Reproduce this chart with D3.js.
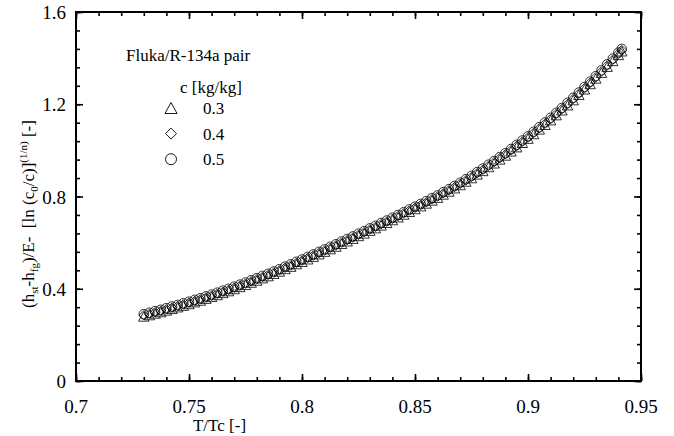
<!DOCTYPE html>
<html>
<head>
<meta charset="utf-8">
<script src="https://cdn.jsdelivr.net/npm/d3@7"></script>
<style>
body { margin: 0; background: #fff; }
svg { display: block; }
</style>
</head>
<body>
<script>
// T/Tc values (shared by the three series)
var tRatio = [0.7300,0.7325,0.7350,0.7375,0.7400,0.7425,0.7450,0.7475,0.7500,0.7525,
  0.7550,0.7575,0.7600,0.7625,0.7650,0.7675,0.7700,0.7725,0.7750,0.7775,
  0.7800,0.7825,0.7850,0.7875,0.7900,0.7925,0.7950,0.7975,0.8000,0.8025,
  0.8050,0.8075,0.8100,0.8125,0.8150,0.8175,0.8200,0.8225,0.8250,0.8275,
  0.8300,0.8325,0.8350,0.8375,0.8400,0.8425,0.8450,0.8475,0.8500,0.8525,
  0.8550,0.8575,0.8600,0.8625,0.8650,0.8675,0.8700,0.8725,0.8750,0.8775,
  0.8800,0.8825,0.8850,0.8875,0.8900,0.8925,0.8950,0.8975,0.9000,0.9025,
  0.9050,0.9075,0.9100,0.9125,0.9150,0.9175,0.9200,0.9225,0.9250,0.9275,
  0.9300,0.9325,0.9350,0.9375,0.9400,0.9415];

var c03 = [0.280,0.286,0.293,0.299,0.306,0.313,0.320,0.327,0.334,0.342,
  0.349,0.357,0.365,0.373,0.382,0.390,0.399,0.408,0.417,0.427,
  0.436,0.446,0.455,0.465,0.475,0.486,0.496,0.507,0.517,0.528,
  0.539,0.550,0.561,0.572,0.583,0.595,0.606,0.617,0.629,0.640,
  0.652,0.663,0.675,0.686,0.698,0.710,0.722,0.734,0.746,0.758,
  0.770,0.783,0.795,0.809,0.822,0.836,0.850,0.865,0.880,0.896,
  0.911,0.928,0.944,0.961,0.978,0.996,1.014,1.033,1.051,1.071,
  1.091,1.111,1.131,1.153,1.174,1.196,1.218,1.241,1.265,1.288,
  1.312,1.337,1.363,1.388,1.414,1.430];

var c04 = [0.285,0.291,0.298,0.304,0.311,0.318,0.325,0.332,0.339,0.347,
  0.354,0.362,0.370,0.378,0.387,0.395,0.404,0.413,0.422,0.432,
  0.441,0.451,0.460,0.470,0.480,0.491,0.501,0.512,0.522,0.533,
  0.544,0.555,0.566,0.577,0.588,0.600,0.611,0.622,0.634,0.645,
  0.657,0.668,0.680,0.691,0.703,0.715,0.727,0.739,0.751,0.763,
  0.775,0.788,0.800,0.814,0.827,0.841,0.855,0.870,0.885,0.901,
  0.916,0.933,0.949,0.966,0.983,1.001,1.019,1.038,1.056,1.076,
  1.096,1.116,1.136,1.158,1.179,1.201,1.223,1.246,1.270,1.293,
  1.317,1.342,1.368,1.393,1.419,1.435];

var c05 = [0.290,0.296,0.303,0.309,0.316,0.323,0.330,0.337,0.344,0.352,
  0.359,0.367,0.375,0.383,0.392,0.400,0.409,0.418,0.427,0.437,
  0.446,0.456,0.465,0.475,0.485,0.496,0.506,0.517,0.527,0.538,
  0.549,0.560,0.571,0.582,0.593,0.605,0.616,0.627,0.639,0.650,
  0.662,0.673,0.685,0.696,0.708,0.720,0.732,0.744,0.756,0.768,
  0.780,0.793,0.805,0.819,0.832,0.846,0.860,0.875,0.890,0.906,
  0.921,0.938,0.954,0.971,0.988,1.006,1.024,1.043,1.061,1.081,
  1.101,1.121,1.141,1.163,1.184,1.206,1.228,1.251,1.275,1.298,
  1.322,1.347,1.373,1.398,1.424,1.440];

var seriesNames = ['0.3', '0.4', '0.5'];
var xTickLabels = ['0.7', '0.75', '0.8', '0.85', '0.9', '0.95'];
var yTickLabels = ['0', '0.4', '0.8', '1.2', '1.6'];

var width = 674;
var height = 436;
var margin = { left: 76, right: 33, top: 12, bottom: 55 };
var w = width - margin.left - margin.right;
var h = height - margin.top - margin.bottom;
var serif = '"Liberation Serif", "Times New Roman", Times, "DejaVu Serif", serif';

var x = d3.scaleLinear().domain([0.7, 0.95]).range([0, w]);
var y = d3.scaleLinear().domain([0, 1.6]).range([h, 0]);

var svg = d3.select('body').append('svg').attr('width', width).attr('height', height)
  .attr('font-family', serif);
var g = svg.append('g').attr('transform', 'translate(' + margin.left + ',' + margin.top + ')');

// marker shapes, centred on their box
var shapes = {
  '0.3': function (s) { return 'M0,' + (-s / 2) + 'L' + (s * 0.55) + ',' + (s / 2) + 'L' + (-s * 0.55) + ',' + (s / 2) + 'Z'; },
  '0.4': function (s) { return 'M0,' + (-s / 2) + 'L' + (s / 2) + ',0L0,' + (s / 2) + 'L' + (-s / 2) + ',0Z'; },
  '0.5': function (s) { return d3.symbol(d3.symbolCircle, Math.PI * s * s / 4)(); }
};

var majorX = xTickLabels.map(Number);
var majorY = yTickLabels.map(Number);
var minorX = d3.range(70, 96, 1).map(function (d) { return d / 100; });
var minorY = d3.range(0, 21, 1).map(function (d) { return d * 0.08; });

function ticks(axis, vals, size) {
  return axis.tickValues(vals).tickSize(-size).tickFormat('');
}

var axes = [
  [d3.axisBottom, 'translate(0,' + h + ')', x, minorX, majorX],
  [d3.axisTop, 'translate(0,0)', x, minorX, majorX],
  [d3.axisLeft, 'translate(0,0)', y, minorY, majorY],
  [d3.axisRight, 'translate(' + w + ',0)', y, minorY, majorY]
];
axes.forEach(function (a) {
  g.append('g').attr('transform', a[1]).call(ticks(a[0](a[2]), a[3], 4));
  g.append('g').attr('transform', a[1]).call(ticks(a[0](a[2]), a[4], 7));
});
g.selectAll('.domain').remove();
g.selectAll('.tick line').attr('stroke', '#000').attr('stroke-width', 1.6);

g.append('rect').attr('width', w).attr('height', h)
  .attr('fill', 'none').attr('stroke', '#000').attr('stroke-width', 2);

// tick labels
g.selectAll('.xlab').data(xTickLabels).enter().append('text')
  .attr('x', function (d) { return x(+d); })
  .attr('y', h + 32)
  .attr('text-anchor', 'middle')
  .attr('font-size', 19)
  .text(function (d) { return d; });

g.selectAll('.ylab').data(yTickLabels).enter().append('text')
  .attr('x', -10)
  .attr('y', function (d) { return y(+d) + 7; })
  .attr('text-anchor', 'end')
  .attr('font-size', 19)
  .text(function (d) { return d; });

// axis titles
g.append('text').attr('x', x(0.7635)).attr('y', h + 50)
  .attr('text-anchor', 'middle').attr('font-size', 17).text('T/Tc [-]');

var yt = svg.append('text')
  .attr('transform', 'translate(34,214) rotate(-90)')
  .attr('text-anchor', 'middle')
  .attr('font-size', 17)
  .style('white-space', 'pre');
yt.append('tspan').text('(h');
yt.append('tspan').attr('dy', 4).attr('font-size', 11).text('st');
yt.append('tspan').attr('dy', -4).text('-h');
yt.append('tspan').attr('dy', 4).attr('font-size', 11).text('fg');
yt.append('tspan').attr('dy', -4).text(')/E-  [ln (c');
yt.append('tspan').attr('dy', 4).attr('font-size', 11).text('0');
yt.append('tspan').attr('dy', -4).text('/c)]');
yt.append('tspan').attr('dy', -7).attr('font-size', 11).text('(1/n)');
yt.append('tspan').attr('dy', 7).text(' [-]');

// data
var series = [c03, c04, c05];
series.forEach(function (vals, k) {
  var name = seriesNames[k];
  g.append('g').selectAll('path').data(vals).enter().append('path')
    .attr('transform', function (d, i) { return 'translate(' + x(tRatio[i]) + ',' + y(d) + ')'; })
    .attr('d', shapes[name](9.5))
    .attr('fill', 'none')
    .attr('stroke', '#000')
    .attr('stroke-width', 0.8);
});

// legend
svg.append('text').attr('x', 126).attr('y', 61).attr('font-size', 17).text('Fluka/R-134a pair');
svg.append('text').attr('x', 180).attr('y', 93).attr('font-size', 17).text('c [kg/kg]');
var leg = svg.selectAll('.leg').data(seriesNames).enter().append('g')
  .attr('transform', function (d, i) { return 'translate(171,' + (108 + i * 25.6) + ')'; });
leg.append('path').attr('d', function (d) { return shapes[d](11); })
  .attr('fill', 'none').attr('stroke', '#000').attr('stroke-width', 0.9);
leg.append('text').attr('x', 32).attr('y', 6).attr('font-size', 17).text(function (d) { return d; });
</script>
</body>
</html>
